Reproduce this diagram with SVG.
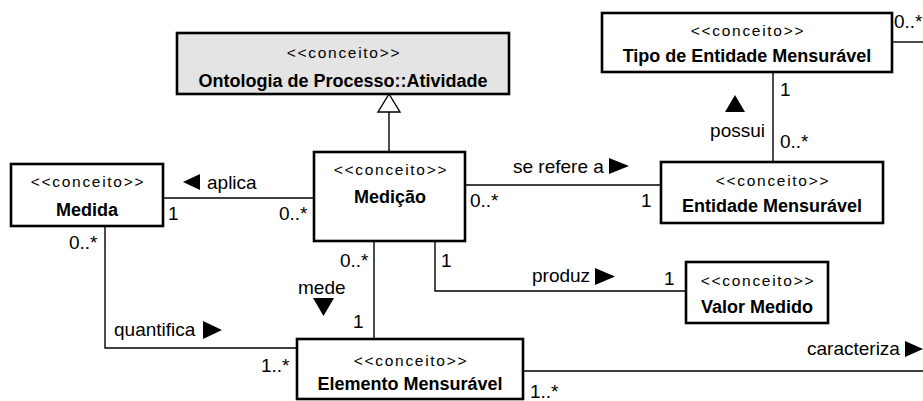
<svg xmlns="http://www.w3.org/2000/svg" width="923" height="401" viewBox="0 0 923 401">
<style>
.box{fill:#fff;stroke:#000;stroke-width:2.6}
.gray{fill:#e4e4e4}
.st{font-family:"Liberation Sans",Arial,sans-serif;font-size:15.5px;letter-spacing:1.7px;text-anchor:middle;fill:#000}
.tt{font-family:"Liberation Sans",Arial,sans-serif;font-size:18px;font-weight:bold;text-anchor:middle;fill:#000}
.lb{font-family:"Liberation Sans",Arial,sans-serif;font-size:19px;fill:#000}
.ln{fill:none;stroke:#000;stroke-width:1.4}
.ar{fill:#000}
</style>
<g id="connectors">
  <polyline class="ln" points="389,152 389,112"/>
  <polygon points="389,94 378,112 400,112" fill="#fff" stroke="#000" stroke-width="1.4"/>
  <line class="ln" x1="163" y1="198" x2="314" y2="198"/>
  <polyline class="ln" points="105,226 105,348 297,348"/>
  <line class="ln" x1="465" y1="185" x2="661" y2="185"/>
  <line class="ln" x1="773" y1="72" x2="773" y2="162"/>
  <line class="ln" x1="892" y1="42" x2="923" y2="42"/>
  <line class="ln" x1="374" y1="241" x2="374" y2="339"/>
  <polyline class="ln" points="435,241 435,291 686,291"/>
  <line class="ln" x1="523" y1="371" x2="923" y2="371"/>
  <g id="labels">
    <polygon class="ar" points="183,182 200,174 200,190"/>
    <text class="lb" x="207" y="189">aplica</text>
    <text class="lb" x="168" y="220">1</text>
    <text class="lb" x="279" y="220">0..*</text>
    <text class="lb" x="69" y="249">0..*</text>
    <text class="lb" x="114" y="336">quantifica</text>
    <polygon class="ar" points="203,321 203,339 222,330"/>
    <text class="lb" x="261" y="372">1..*</text>
    <text class="lb" x="340" y="267">0..*</text>
    <text class="lb" x="298" y="294">mede</text>
    <polygon class="ar" points="313,298 334,298 323.5,316"/>
    <text class="lb" x="353" y="328">1</text>
    <text class="lb" x="513" y="173">se refere a</text>
    <polygon class="ar" points="609,158 609,174 629,166"/>
    <text class="lb" x="470" y="207">0..*</text>
    <text class="lb" x="641" y="207">1</text>
    <text class="lb" x="780" y="96">1</text>
    <text class="lb" x="780" y="148">0..*</text>
    <text class="lb" x="765" y="137" text-anchor="end">possui</text>
    <polygon class="ar" points="725,112 745,112 735,95"/>
    <text class="lb" x="894" y="28">0..*</text>
    <text class="lb" x="441" y="267">1</text>
    <text class="lb" x="532" y="282">produz</text>
    <polygon class="ar" points="595,268 595,285 615,276.5"/>
    <text class="lb" x="664" y="285">1</text>
    <text class="lb" x="807" y="355">caracteriza</text>
    <polygon class="ar" points="905,341 905,357 923,349"/>
    <text class="lb" x="530" y="398">1..*</text>
  </g>
</g>
<g id="atividade">
  <rect class="box gray" x="177" y="33" width="332" height="61"/>
  <text class="st" x="344" y="58">&lt;&lt;conceito&gt;&gt;</text>
  <text class="tt" x="343" y="87">Ontologia de Processo::Atividade</text>
</g>
<g id="tipo-entidade">
  <rect class="box" x="602" y="13" width="290" height="59"/>
  <text class="st" x="748" y="36">&lt;&lt;conceito&gt;&gt;</text>
  <text class="tt" x="747" y="62">Tipo de Entidade Mensurável</text>
</g>
<g id="medida">
  <rect class="box" x="11" y="164" width="152" height="62"/>
  <text class="st" x="88" y="187">&lt;&lt;conceito&gt;&gt;</text>
  <text class="tt" x="87" y="216">Medida</text>
</g>
<g id="medicao">
  <rect class="box" x="314" y="152" width="151" height="89"/>
  <text class="st" x="391" y="175">&lt;&lt;conceito&gt;&gt;</text>
  <text class="tt" x="390" y="203">Medição</text>
</g>
<g id="entidade">
  <rect class="box" x="661" y="162" width="222" height="61"/>
  <text class="st" x="773" y="186">&lt;&lt;conceito&gt;&gt;</text>
  <text class="tt" x="772" y="212">Entidade Mensurável</text>
</g>
<g id="valor">
  <rect class="box" x="686" y="262" width="142" height="61"/>
  <text class="st" x="758" y="286">&lt;&lt;conceito&gt;&gt;</text>
  <text class="tt" x="757" y="313">Valor Medido</text>
</g>
<g id="elemento">
  <rect class="box" x="297" y="339" width="226" height="60"/>
  <text class="st" x="411" y="366">&lt;&lt;conceito&gt;&gt;</text>
  <text class="tt" x="410" y="390">Elemento Mensurável</text>
</g>
</svg>
